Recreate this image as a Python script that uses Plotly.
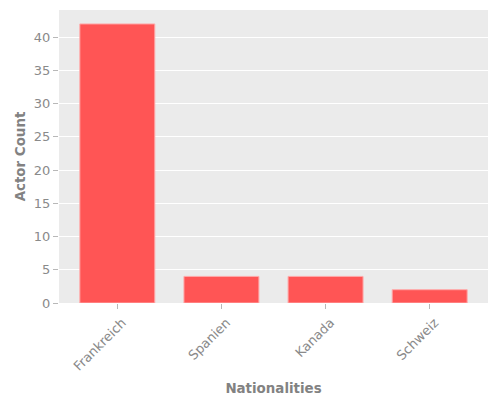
import plotly.graph_objects as go

nationalities = ["Frankreich", "Spanien", "Kanada", "Schweiz"]
actor_counts = [42, 4, 4, 2]

fig = go.Figure(go.Bar(
    x=nationalities, y=actor_counts,
    marker=dict(color="rgba(255,85,85,1)", line=dict(color="rgba(255,170,170,1)", width=1)),
    width=0.72,
))
grey = "#828282"
tickgrey = "#8a8a8a"
fig.update_layout(
    width=500, height=400,
    margin=dict(l=51, r=20, t=2, b=105, autoexpand=False),
    paper_bgcolor="white", plot_bgcolor="#ebebeb",
    font=dict(family="DejaVu Sans", color=grey, size=13),
    showlegend=False,
)
fig.update_xaxes(
    title=dict(text="<b>Nationalities</b>", font=dict(size=13.4, color=grey), standoff=10),
    tickangle=-45, ticks="outside", ticklen=5, tickcolor="#b8b8b8",
    showgrid=False, range=[-0.56, 3.56], tickfont=dict(size=13, color=tickgrey),
    ticklabelshift=5, ticklabelstandoff=1,
    automargin=False,
)
fig.update_yaxes(
    title=dict(text="<b>Actor Count</b>", font=dict(size=13.4, color=grey), standoff=5),
    range=[0, 44.1], dtick=5, ticks="outside", ticklen=5, tickcolor="#b8b8b8",
    gridcolor="white", gridwidth=1, zeroline=False, tickfont=dict(size=13, color=tickgrey),
    automargin=False,
)
fig.write_html("out.html")
